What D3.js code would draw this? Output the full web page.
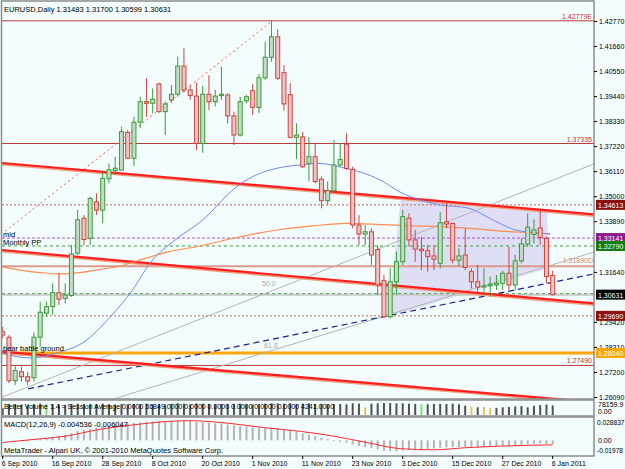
<!DOCTYPE html>
<html>
<head>
<meta charset="utf-8">
<script src="https://cdnjs.cloudflare.com/ajax/libs/d3/7.8.5/d3.min.js"></script>
<style>
body { margin: 0; background: #fff; }
svg { display: block; }
text { font-family: "Liberation Sans", Arial, sans-serif; }
</style>
</head>
<body>
<div class="canvas"></div>
<script>

// EURUSD daily, 6 Sep 2010 .. 6 Jan 2011 (bar 0 .. 88)
const opens  = [1.2898,1.2874,1.2681,1.2721,1.2699,1.2695,1.2874,1.2981,1.3010,1.3072,
                1.3046,1.3059,1.3247,1.3402,1.3313,1.3475,1.3438,1.3577,1.3613,1.3616,
                1.3783,1.3668,1.3828,1.3919,1.3912,1.3998,1.3875,1.3927,1.3952,1.4077,
                1.3971,1.3944,1.3734,1.3952,1.3919,1.3946,1.3949,1.3856,1.3771,1.3923,
                1.3968,1.3893,1.4025,1.4116,1.4207,1.4048,1.3950,1.3761,1.3763,1.3646,
                1.3675,1.3575,1.3480,1.3524,1.3638,1.3731,1.3619,1.3372,1.3332,1.3342,
                1.3263,1.3125,1.2965,1.3120,1.3209,1.3402,1.3306,1.3265,1.3258,1.3235,
                1.3202,1.3386,1.3379,1.3216,1.3239,1.3165,1.3120,1.3097,1.3102,1.3106,
                1.3113,1.3158,1.3106,1.3213,1.3288,1.3330,1.3359,1.3313,1.31483];
const highs  = [1.2920,1.2883,1.2751,1.2743,1.2721,1.2895,1.3032,1.3032,1.3113,1.3158,
                1.3113,1.3283,1.3439,1.3416,1.3498,1.3513,1.3609,1.3645,1.3675,1.3808,
                1.3793,1.3852,1.3941,1.4023,1.3978,1.4003,1.3919,1.3993,1.4119,1.4156,
                1.3993,1.4003,1.3989,1.4037,1.3971,1.4074,1.3956,1.3875,1.3941,1.3949,
                1.3998,1.4042,1.4185,1.4278,1.4240,1.4082,1.4001,1.3823,1.3785,1.3763,
                1.3735,1.3586,1.3565,1.3749,1.3735,1.3779,1.3631,1.3416,1.3372,1.3357,
                1.3281,1.3150,1.3181,1.3254,1.3439,1.3424,1.3350,1.3320,1.3283,1.3283,
                1.3431,1.3475,1.3382,1.3269,1.3357,1.3180,1.3195,1.3180,1.3143,1.3150,
                1.3169,1.3275,1.3239,1.3313,1.3424,1.3397,1.3439,1.3320,1.31700];
const lows   = [1.2870,1.2670,1.2662,1.2677,1.2662,1.2677,1.2832,1.2965,1.2973,1.3017,
                1.3024,1.3054,1.3239,1.3283,1.3283,1.3416,1.3380,1.3557,1.3594,1.3613,
                1.3664,1.3634,1.3801,1.3852,1.3868,1.3868,1.3771,1.3912,1.3941,1.3959,
                1.3927,1.3705,1.3693,1.3882,1.3897,1.3927,1.3823,1.3727,1.3764,1.3912,
                1.3860,1.3868,1.4015,1.4096,1.4015,1.3879,1.3757,1.3664,1.3626,1.3565,
                1.3557,1.3446,1.3461,1.3520,1.3630,1.3616,1.3357,1.3283,1.3283,1.3195,
                1.3062,1.2958,1.2958,1.3062,1.3195,1.3276,1.3209,1.3172,1.3165,1.3172,
                1.3180,1.3357,1.3202,1.3187,1.3172,1.3091,1.3076,1.3062,1.3054,1.3084,
                1.3084,1.3084,1.3084,1.3202,1.3276,1.3290,1.3283,1.3113,1.30599];
const closes = [1.2884,1.2681,1.2726,1.2699,1.2680,1.2874,1.2985,1.3010,1.3072,1.3043,
                1.3061,1.3243,1.3395,1.3308,1.3490,1.3438,1.3579,1.3617,1.3624,1.3786,
                1.3668,1.3828,1.3919,1.3912,1.3930,1.3875,1.3909,1.3952,1.4077,1.3971,
                1.3946,1.3734,1.3952,1.3919,1.3944,1.3952,1.3856,1.3771,1.3919,1.3941,
                1.3894,1.4025,1.4116,1.4207,1.4023,1.3909,1.3761,1.3771,1.3630,1.3675,
                1.3565,1.3480,1.3524,1.3638,1.3663,1.3623,1.3372,1.3332,1.3342,1.3239,
                1.3106,1.2965,1.3120,1.3209,1.3409,1.3306,1.3265,1.3258,1.3232,1.3220,
                1.3382,1.3376,1.3216,1.3235,1.3184,1.3120,1.3096,1.3102,1.3109,1.3113,
                1.3158,1.3106,1.3213,1.3288,1.3362,1.3350,1.3317,1.3143,1.30631];

// moving averages: [bar, price]
const maBlue = [[-0.1,1.2804],[4.4,1.2782],[9.2,1.2809],[12.8,1.2849],[17.2,1.2964],[20.8,1.3084],
                [23.6,1.3204],[27.6,1.3306],[32.0,1.3394],[36.8,1.3527],[39.6,1.3581],[42.3,1.3612],
                [44.8,1.3629],[47.6,1.3638],[50.8,1.3645],[54.0,1.3629],[57.2,1.3607],[60.4,1.3572],
                [63.6,1.3518],[66.8,1.3483],[70.0,1.3461],[74.3,1.3448],[79.1,1.3385],[82.0,1.3350],
                [84.4,1.3341],[87.6,1.3332]];
const maOrange = [[-0.1,1.3186],[2.8,1.3172],[6.0,1.3161],[9.2,1.3155],[12.4,1.3161],[15.6,1.3175],
                  [18.8,1.3190],[22.0,1.3217],[26.3,1.3252],[31.6,1.3279],[36.4,1.3310],[41.2,1.3337],
                  [44.4,1.3352],[49.6,1.3368],[55.1,1.3379],[60.4,1.3374],[65.6,1.3368],[70.0,1.3365],
                  [74.8,1.3357],[79.6,1.3345],[84.4,1.3338],[87.6,1.3332]];

// trend lines: [[bar, price], [bar, price]]
const channelLines = [[[-0.1,1.3647],[94.6,1.3419]],
                      [[-0.1,1.3261],[94.6,1.3024]],
                      [[-0.1,1.2810],[94.6,1.2586]]];
const grayLines = [[[-0.4,1.2605],[94.6,1.3643]],
                   [[17.2,1.2596],[94.6,1.3252]]];
const navyLine = [[4.05,1.2645],[94.6,1.3155]];
const dottedRed = [[0.4,1.3345],[43,1.4274]];
const zone = [[61.65,1.2964],[63.7,1.3487],[87.1,1.3430],[87.4,1.3181]];

// price levels
const solidLevels = [1.42779, 1.37335, 1.27490];
const solidLabels = ['1.42779E', '1.37335', '1.27490'];
const pivotLevel = 1.31890;
const dotLevels = [1.34613, 1.29690];
const midLevel = 1.33141;
const ppLevels = [1.32790, 1.30680];
const bidPrice = 1.30631;
const bearLevel = 1.28040;
const boxPrices = [1.34613, 1.33141, 1.32790, 1.30631, 1.29690, 1.28040];

const priceTicks = [1.42770,1.41660,1.40550,1.39440,1.38330,1.37220,1.36110,1.35000,
                    1.33890,1.31640,1.29420,1.28310,1.27200,1.26090];
const dateTicks = [0,8,16,24,32,40,48,56,64,72,80,88];
const dateLabels = ['6 Sep 2010','16 Sep 2010','28 Sep 2010','8 Oct 2010','20 Oct 2010','1 Nov 2010',
                    '11 Nov 2010','23 Nov 2010','3 Dec 2010','15 Dec 2010','27 Dec 2010','6 Jan 2011'];

// volume (ticks)
const volumes = [45000,72000,70000,68000,66000,70000,74000,72000,70000,68000,
                 66000,72000,74000,70000,72000,70000,74000,70000,68000,72000,
                 70000,72000,70000,74000,70000,72000,70000,72000,76000,74000,
                 70000,76000,74000,72000,70000,72000,70000,72000,74000,70000,
                 70000,72000,74000,76000,76000,74000,76000,72000,74000,76000,
                 72000,72000,70000,72000,72000,70000,76000,74000,50000,74000,
                 76000,78000,78000,76000,76000,74000,72000,70000,70000,72000,
                 72000,72000,74000,70000,60000,54000,50000,52000,44000,46000,
                 50000,52000,56000,58000,50000,60000,64000,68000,62000];
const greenVol = [7, 67];
const yellowVol = [58, 75, 77, 78];

// MACD main (histogram) per bar, signal read at points
const macdMain = [0.0008,0.0000,-0.0006,-0.0010,-0.0014,-0.0004,0.0014,0.0030,0.0048,0.0060,
                  0.0075,0.0098,0.0125,0.0138,0.0158,0.0170,0.0188,0.0200,0.0210,0.0224,
                  0.0226,0.0234,0.0244,0.0250,0.0255,0.0258,0.0258,0.0260,0.0266,0.0266,
                  0.0262,0.0250,0.0246,0.0238,0.0232,0.0226,0.0214,0.0200,0.0192,0.0186,
                  0.0176,0.0172,0.0170,0.0172,0.0166,0.0152,0.0132,0.0114,0.0094,0.0078,
                  0.0058,0.0036,0.0018,-0.0010,-0.0020,-0.0032,-0.0056,-0.0076,-0.0090,-0.0106,
                  -0.0122,-0.0140,-0.0146,-0.0148,-0.0138,-0.0133,-0.0128,-0.0122,-0.0117,-0.0112,
                  -0.0100,-0.0094,-0.0092,-0.0089,-0.0088,-0.0088,-0.0088,-0.0086,-0.0083,-0.0080,
                  -0.0075,-0.0074,-0.0068,-0.0060,-0.0051,-0.0046,-0.0042,-0.0046,-0.004536];
const macdSignal = [[0,-0.0030],[5,0.0013],[10,0.0056],[15.6,0.0150],[21,0.0210],[26,0.0253],
                    [30,0.0266],[34,0.0248],[38,0.0212],[42,0.0170],[47.6,0.0122],[53,0.0056],
                    [58.3,-0.0030],[63.6,-0.0112],[68.9,-0.0128],[74.3,-0.0098],[79.6,-0.0078],
                    [84.8,-0.0066],[88,-0.006047]];

const W = 625, H = 469;
const plotL = 2, plotR = 594;
const mainTop = 2, mainBot = 399, volTop = 401, volBot = 416, macdTop = 418, macdBot = 456;

const svg = d3.select('.canvas').append('svg').attr('width', W).attr('height', H);
svg.append('rect').attr('width', W).attr('height', H).attr('fill', '#f3fdfd');

const x = d3.scaleLinear().domain([0, 88]).range([2.7, 552.7]);
const y = d3.scaleLinear().domain([1.26090, 1.42770]).range([397, 21]);
const yV = d3.scaleLinear().domain([0, 78159.9]).range([415, 403]);
const yM = d3.scaleLinear().domain([-0.01978, 0.028837]).range([455, 419]);

svg.append('clipPath').attr('id', 'mc').append('rect')
  .attr('x', plotL).attr('y', mainTop).attr('width', plotR - plotL).attr('height', mainBot - mainTop);
const main = svg.append('g').attr('clip-path', 'url(#mc)');
const line = d3.line().x(d => x(d[0])).y(d => y(d[1]));
const hline = (p, col, w, dash) => main.append('line')
  .attr('x1', plotL).attr('x2', plotR).attr('y1', y(p)).attr('y2', y(p))
  .attr('stroke', col).attr('stroke-width', w).attr('stroke-dasharray', dash || null);

// shaded zone
main.append('path').attr('d', line(zone) + 'Z').attr('fill', '#dcdcf4').attr('opacity', 0.9);

// levels
solidLevels.forEach(p => hline(p, '#b83a3a', 1));
hline(pivotLevel, '#dc9a8c', 2);
dotLevels.forEach(p => hline(p, '#c0645a', 1, '2,2'));
hline(midLevel, '#b050c8', 1, '3,2');
ppLevels.forEach(p => hline(p, '#3ca03c', 1, '3,3'));
hline(bidPrice, '#c4c8c8', 2);
hline(bearLevel, '#ffa500', 3);

// trend lines
grayLines.forEach(l => main.append('path').attr('d', line(l)).attr('stroke', '#b4b4b4').attr('fill', 'none'));
main.append('path').attr('d', line(navyLine)).attr('stroke', '#202090').attr('stroke-width', 1.2)
  .attr('stroke-dasharray', '6,4').attr('fill', 'none');
main.append('path').attr('d', line(dottedRed)).attr('stroke', '#ff5a3c').attr('stroke-width', 1)
  .attr('stroke-dasharray', '2,3').attr('fill', 'none');
channelLines.forEach(l => {
  main.append('path').attr('d', line(l)).attr('stroke', '#f0a080').attr('stroke-width', 2)
    .attr('transform', 'translate(0,1.5)').attr('fill', 'none');
  main.append('path').attr('d', line(l)).attr('stroke', '#ff1e1e').attr('stroke-width', 2.2).attr('fill', 'none');
});

// moving averages
const curve = d3.line().x(d => x(d[0])).y(d => y(d[1])).curve(d3.curveMonotoneX);
main.append('path').attr('d', curve(maOrange)).attr('stroke', '#ff8c50').attr('stroke-width', 1.2).attr('fill', 'none');
main.append('path').attr('d', curve(maBlue)).attr('stroke', '#6e8ce6').attr('fill', 'none');

// candles
const bars = opens.map((o, i) => ({ i: i, o: o, h: highs[i], l: lows[i], c: closes[i] }));
const upCol = '#3a9c3a', dnCol = '#cc4444';
main.selectAll('line.wick').data(bars).join('line').attr('class', 'wick')
  .attr('x1', d => x(d.i)).attr('x2', d => x(d.i))
  .attr('y1', d => y(d.h)).attr('y2', d => y(d.l))
  .attr('stroke', d => d.c >= d.o ? upCol : dnCol);
main.selectAll('rect.body').data(bars).join('rect').attr('class', 'body')
  .attr('x', d => x(d.i) - 2).attr('width', 4)
  .attr('y', d => y(Math.max(d.o, d.c)))
  .attr('height', d => Math.max(1, Math.abs(y(d.o) - y(d.c))))
  .attr('fill', d => d.c >= d.o ? '#c4dcc4' : '#ecc4c4')
  .attr('stroke', d => d.c >= d.o ? upCol : dnCol).attr('stroke-width', 1);

// texts on the chart
const t = (g, tx, ty, s, size, col, anchor) => g.append('text').attr('x', tx).attr('y', ty)
  .attr('font-size', size).attr('fill', col).attr('text-anchor', anchor || 'start').text(s);
solidLevels.forEach((p, k) => t(main, 592, y(p) - 2, solidLabels[k], 7, '#c03030', 'end'));
t(main, 593, y(pivotLevel) - 3, '1.31890D', 7, '#d88a7c', 'end');
t(main, 3, y(midLevel) - 1, 'mid', 7.5, '#000');
t(main, 3, y(ppLevels[0]) - 1, 'Monthly PP', 7.5, '#000');
t(main, 3, y(bearLevel) - 2, 'bear battle ground', 7.5, '#000');
t(main, 262, 286, '50.0', 7, '#a8a8a8');
t(main, 264, 348, '61.8', 7, '#a8a8a8');
t(svg, 4, 12, 'EURUSD,Daily  1.31483 1.31700 1.30599 1.30631', 7.5, '#000');

// volume panel
const vg = svg.append('g');
vg.selectAll('rect').data(volumes).join('rect')
  .attr('x', (d, i) => x(i) - 1).attr('width', 2)
  .attr('y', d => yV(d)).attr('height', d => yV(0) - yV(d))
  .attr('fill', (d, i) => greenVol.includes(i) ? '#7ce07c' : yellowVol.includes(i) ? '#f0c060' : '#505050');
t(vg, 4, 409, 'Better Volume 1.4 = Session Average 0.0000 36849.0000 0.0000 0.0000 0.0000 0.0000 0.0000 4241.0000', 7, '#000');

// MACD panel
const mg = svg.append('g');
mg.selectAll('rect').data(macdMain).join('rect')
  .attr('x', (d, i) => x(i) - 1).attr('width', 2)
  .attr('y', d => Math.min(yM(d), yM(0))).attr('height', d => Math.abs(yM(d) - yM(0)))
  .attr('fill', '#b4b4b4');
mg.append('path').attr('d', d3.line().x(d => x(d[0])).y(d => yM(d[1])).curve(d3.curveMonotoneX)(macdSignal))
  .attr('stroke', '#ff2a2a').attr('fill', 'none');
t(mg, 4, 427, 'MACD(12,26,9) -0.004536 -0.006047', 7.5, '#000');
t(mg, 4, 453, 'MetaTrader - Alpari UK, \u00a9 2001-2010 MetaQuotes Software Corp.', 7.5, '#000');

// frames
const frame = (y0, y1) => svg.append('rect').attr('x', 1.5).attr('y', y0).attr('width', plotR - 1.5).attr('height', y1 - y0)
  .attr('fill', 'none').attr('stroke', '#8c8c8c').attr('stroke-width', 1.5);
frame(1, mainBot); frame(volTop - 1, volBot); frame(macdTop - 1, macdBot);

// price axis
const ax = svg.append('g').attr('transform', `translate(${plotR},0)`)
  .call(d3.axisRight(y).tickValues(priceTicks).tickFormat(d3.format('.5f')).tickSize(3).tickSizeOuter(0).tickPadding(2));
ax.select('.domain').remove();
ax.selectAll('text').attr('font-size', 7).attr('fill', '#000').attr('font-family', '"Liberation Sans", Arial, sans-serif');
ax.selectAll('line').attr('stroke', '#000');

// coloured price boxes
const boxCols = ['#8c1010', '#8c1c8c', '#107c10', '#000000', '#8c1010', '#ffa500'];
boxPrices.forEach((p, k) => {
  svg.append('rect').attr('x', plotR + 2).attr('y', y(p) - 5).attr('width', W - plotR - 2).attr('height', 10).attr('fill', boxCols[k]);
  t(svg, plotR + 4, y(p) + 3, d3.format('.5f')(p), 7, '#fff');
});

// sub-window scales
t(svg, plotR + 4, 407, '78159.9', 7, '#000');
t(svg, plotR + 4, 414, '0.00', 7, '#000');
t(svg, plotR + 3, 425, '0.028837', 6.6, '#000');
t(svg, plotR + 4, yM(0) + 2.5, '0.00', 7, '#000');
t(svg, plotR + 3, 453, '-0.01978', 6.6, '#000');

// date axis
const dg = svg.append('g');
dateTicks.forEach((b, k) => {
  dg.append('line').attr('x1', x(b)).attr('x2', x(b)).attr('y1', macdBot).attr('y2', macdBot + 3).attr('stroke', '#000');
  t(dg, x(b) - 1, 466, dateLabels[k], 7, '#000');
});

</script>
</body>
</html>
